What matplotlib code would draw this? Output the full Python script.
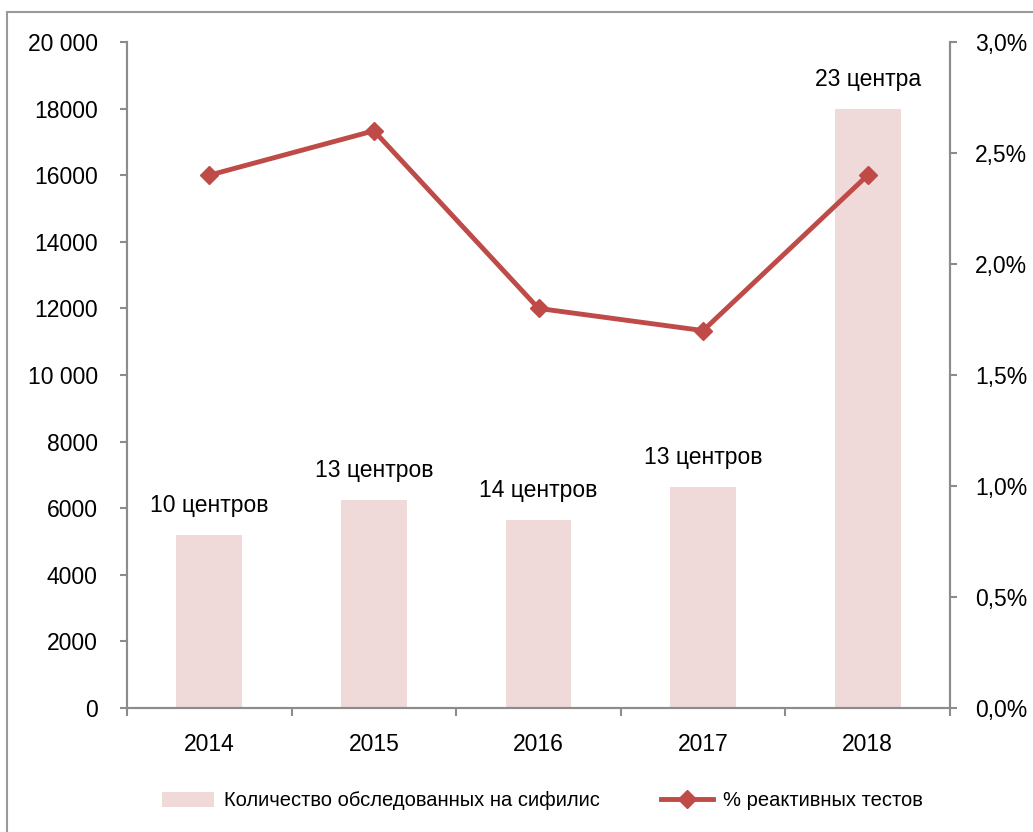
import numpy as np
import matplotlib.pyplot as plt
from matplotlib.patches import Rectangle

plt.rcParams['font.family'] = ['Liberation Sans', 'DejaVu Sans']

# Data
years = ['2014', '2015', '2016', '2017', '2018']
examined = [5200, 6250, 5650, 6650, 18000]
reactive_pct = [2.4, 2.6, 1.8, 1.7, 2.4]
centers = ['10 центров', '13 центров', '14 центров', '13 центров', '23 центра']
left_ticks = [0, 2000, 4000, 6000, 8000, 10000, 12000, 14000, 16000, 18000, 20000]
left_labels = ['0', '2000', '4000', '6000', '8000', '10 000', '12000', '14000', '16000', '18000', '20 000']
right_ticks = [0, 0.5, 1.0, 1.5, 2.0, 2.5, 3.0]
right_labels = ['0,0%', '0,5%', '1,0%', '1,5%', '2,0%', '2,5%', '3,0%']

bar_color = '#EFD9D9'
line_color = '#BE4B48'
spine_color = '#8C8C8C'

fig = plt.figure(figsize=(10.33, 8.32), dpi=100)
ax = fig.add_axes([127 / 1033, 1 - 708 / 832, (950 - 127) / 1033, (708 - 42) / 832])
ax2 = ax.twinx()

x = np.arange(len(years))
ax.bar(x, examined, width=0.4, color=bar_color, label='Количество обследованных на сифилис', zorder=1)
for xi, v, t in zip(x, examined, centers):
    ax.annotate(t, (xi, v), xytext=(0, 21), textcoords='offset points',
                ha='center', va='center', fontsize=16.5)

ax2.plot(x, reactive_pct, color=line_color, lw=3.5, marker='D', markersize=9,
         label='% реактивных тестов', zorder=3)

ax.set_xlim(-0.5, len(years) - 0.5)
ax.set_ylim(0, 20000)
ax2.set_ylim(0, 3.0)

ax.set_yticks(left_ticks)
ax.set_yticklabels(left_labels)
ax2.set_yticks(right_ticks)
ax2.set_yticklabels(right_labels)

ax.set_xticks(x)
ax.set_xticklabels(years)
ax.set_xticks(np.arange(len(years) + 1) - 0.5, minor=True)
ax.tick_params(axis='x', which='major', length=0, pad=18, labelsize=16.5)
ax.tick_params(axis='x', which='minor', length=6, width=1.5, color=spine_color, direction='out')
ax.tick_params(axis='y', length=5, width=1.5, color=spine_color, pad=16, labelsize=16.5)
ax2.tick_params(axis='y', length=5, width=1.5, color=spine_color, pad=13, labelsize=16.5)

for a in (ax, ax2):
    a.spines['top'].set_visible(False)
    for s in ('left', 'right', 'bottom'):
        a.spines[s].set_color(spine_color)
        a.spines[s].set_linewidth(1.5)
ax.patch.set_visible(False)
ax.set_zorder(ax2.get_zorder() - 1)
ax2.patch.set_visible(False)
fig.patch.set_facecolor('white')

h1, l1 = ax.get_legend_handles_labels()
h2, l2 = ax2.get_legend_handles_labels()
fig.legend(h1 + h2, l1 + l2, loc='center', bbox_to_anchor=(0.525, 1 - 801 / 832),
           ncol=2, frameon=False, fontsize=14.5, handlelength=2.6, handleheight=0.8,
           handletextpad=0.5, columnspacing=3.0)

# outer frame
fig.patches.append(Rectangle((7 / 1033, -0.1), 1.2, 1.1 - 12 / 832, transform=fig.transFigure,
                             fill=False, edgecolor='#9A9A9A', lw=1.5))

fig.savefig('out.png', dpi=100)
